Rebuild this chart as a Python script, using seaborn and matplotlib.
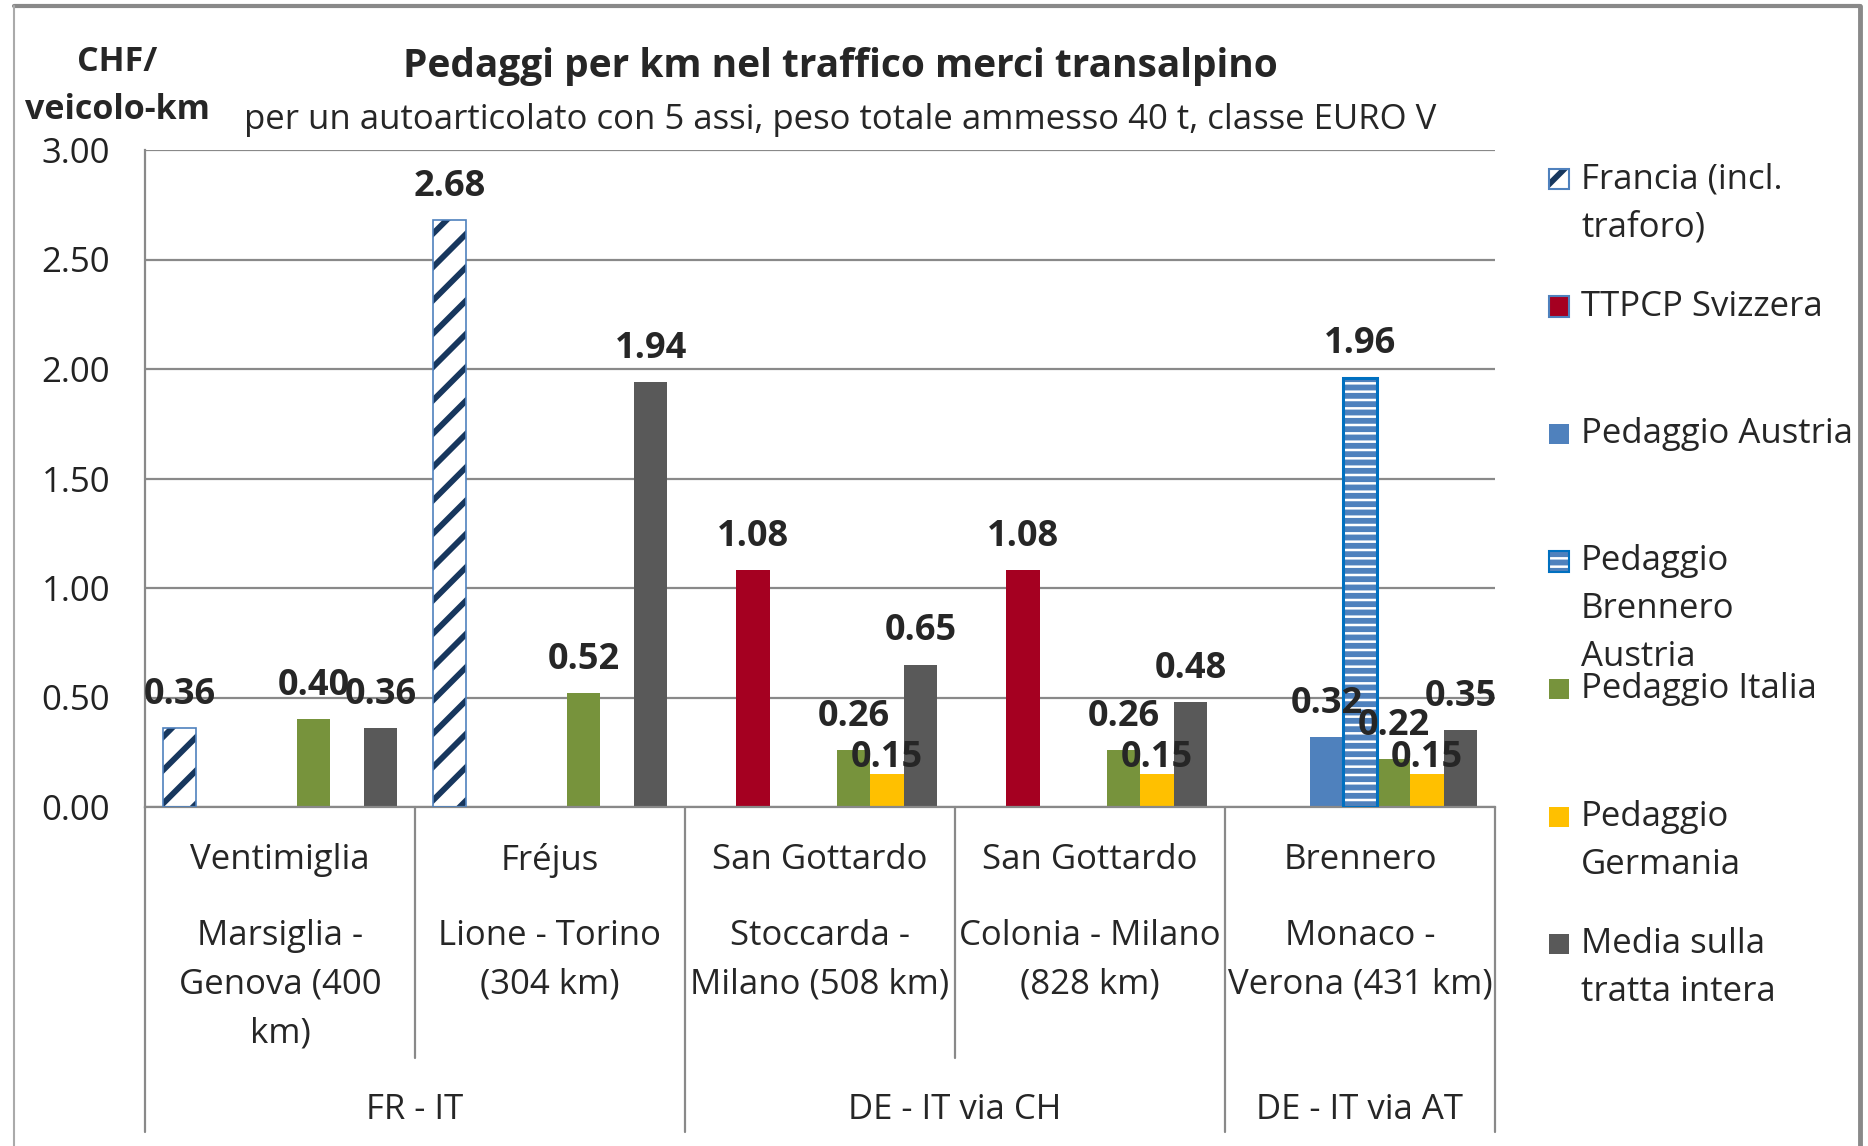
import numpy as np
import pandas as pd
import matplotlib.pyplot as plt
import matplotlib.transforms as mtransforms
from matplotlib.patches import Rectangle
from matplotlib.lines import Line2D
import seaborn as sns

# categorie (tratte) e gruppi
routes = ["Marsiglia - Genova (400 km)", "Lione - Torino (304 km)",
          "Stoccarda - Milano (508 km)", "Colonia - Milano (828 km)",
          "Monaco - Verona (431 km)"]
passes = ["Ventimiglia", "Fréjus", "San Gottardo", "San Gottardo", "Brennero"]
route_lines = [["Marsiglia -", "Genova (400", "km)"],
               ["Lione - Torino", "(304 km)"],
               ["Stoccarda -", "Milano (508 km)"],
               ["Colonia - Milano", "(828 km)"],
               ["Monaco -", "Verona (431 km)"]]
groups = ["FR - IT", "DE - IT via CH", "DE - IT via AT"]
group_sizes = [2, 2, 1]

# serie (CHF per veicolo-km)
series = ["Francia (incl. traforo)", "TTPCP Svizzera", "Pedaggio Austria",
          "Pedaggio Brennero Austria", "Pedaggio Italia", "Pedaggio Germania",
          "Media sulla tratta intera"]
legend_labels = ["Francia (incl.\ntraforo)", "TTPCP Svizzera", "Pedaggio Austria",
                 "Pedaggio\nBrennero\nAustria", "Pedaggio Italia", "Pedaggio\nGermania",
                 "Media sulla\ntratta intera"]
nan = np.nan
francia = [0.36, 2.68, nan, nan, nan]
ttpcp = [nan, nan, 1.08, 1.08, nan]
austria = [nan, nan, nan, nan, 0.32]
brennero = [nan, nan, nan, nan, 1.96]
italia = [0.40, 0.52, 0.26, 0.26, 0.22]
germania = [nan, nan, 0.15, 0.15, 0.15]
media = [0.36, 1.94, 0.65, 0.48, 0.35]
values = [francia, ttpcp, austria, brennero, italia, germania, media]

colors = ["#FFFFFF", "#A50021", "#4F81BD", "#FFFFFF", "#77933C", "#FFC000", "#595959"]
navy = "#17375E"
grey = "#898989"

rows = []
for s, vals in zip(series, values):
    for r, v in zip(routes, vals):
        if not np.isnan(v):
            rows.append({"tratta": r, "serie": s, "valore": v})
df = pd.DataFrame(rows)

sns.set_style("white")
plt.rcParams['font.family'] = ['Open Sans', 'DejaVu Sans']
plt.rcParams['hatch.linewidth'] = 4.2
FS = 25

W, H = 1868, 1146
fig = plt.figure(figsize=(W / 100, H / 100), dpi=100)
ax = fig.add_axes([145 / W, 1 - 807 / H, (1495 - 145) / W, (807 - 150) / H])

sns.barplot(data=df, x="tratta", y="valore", hue="serie", order=routes,
            hue_order=series, palette=colors, width=0.87, saturation=1,
            errorbar=None, legend=False, linewidth=0, ax=ax)

# tratteggi
for bar in ax.containers[0]:
    bar.set_facecolor("white")
    bar.set_edgecolor(navy)
    bar.set_hatch("/")
    bar.set_linewidth(0)
    ax.add_patch(Rectangle(bar.get_xy(), bar.get_width(), bar.get_height(),
                           fill=False, edgecolor="#4F81BD", lw=1.2, zorder=3))
for bar in ax.containers[3]:
    bar.set_facecolor("white")
    bar.set_edgecolor("#4F81BD")
    bar.set_hatch("--")
    bar.set_linewidth(0)
    ax.add_patch(Rectangle(bar.get_xy(), bar.get_width(), bar.get_height(),
                           fill=False, edgecolor="#0070C0", lw=2.2, zorder=3))

for i, c in enumerate(ax.containers):
    pad = -1 if i == 5 else 11
    ax.bar_label(c, fmt="%.2f", padding=pad, fontsize=26, fontweight="bold")

ax.set_xlim(-0.5, len(routes) - 0.5)
ax.set_ylim(0, 3)
ax.set_yticks(np.arange(0, 3.01, 0.5))
ax.yaxis.set_major_formatter(plt.FormatStrFormatter("%.2f"))
ax.set_xticks([])
ax.set_xlabel("")
ax.set_ylabel("")
ax.yaxis.grid(True, color=grey, lw=1.6)
ax.set_axisbelow(True)
for side in ["top", "right"]:
    ax.spines[side].set_visible(False)
for side in ["left", "bottom"]:
    ax.spines[side].set_color(grey)
    ax.spines[side].set_linewidth(1.6)
ax.tick_params(axis="y", length=7, width=1.6, color=grey, labelsize=FS,
               pad=18, labelcolor="#222222")

# etichette asse x a piu livelli
tr = mtransforms.blended_transform_factory(ax.transData, fig.transFigure)
for i, (p, lines) in enumerate(zip(passes, route_lines)):
    fig.text(i, 1 - 860 / H, p, transform=tr, ha="center", va="center", fontsize=FS)
    for k, ln in enumerate(lines):
        fig.text(i, 1 - (936 + 48.5 * k) / H, ln, transform=tr, ha="center",
                 va="center", fontsize=FS)

start = 0
bounds = [-0.5]
for g, n in zip(groups, group_sizes):
    fig.text(start + (n - 1) / 2, 1 - 1110 / H, g, transform=tr, ha="center",
             va="center", fontsize=FS)
    for j in range(1, n):
        x = start + j - 0.5
        fig.add_artist(Line2D([x, x], [1 - 807 / H, 1 - 1058 / H], transform=tr,
                              color=grey, lw=1.6))
    start += n
    bounds.append(start - 0.5)
for x in bounds:
    fig.add_artist(Line2D([x, x], [1 - 807 / H, 1 - 1132 / H], transform=tr,
                          color=grey, lw=1.6))

# titoli
fig.text(840 / W, 1 - 67 / H, "Pedaggi per km nel traffico merci transalpino",
         ha="center", va="center", fontsize=28, fontweight="bold")
fig.text(840 / W, 1 - 120 / H,
         "per un autoarticolato con 5 assi, peso totale ammesso 40 t, classe EURO V",
         ha="center", va="center", fontsize=FS)
fig.text(117 / W, 1 - 62 / H, "CHF/", ha="center", va="center", fontsize=24.5,
         fontweight="bold")
fig.text(117 / W, 1 - 110 / H, "veicolo-km", ha="center", va="center", fontsize=24.5,
         fontweight="bold")

# legenda
for i, (lab, col) in enumerate(zip(legend_labels, colors)):
    yc = 179 + 127.5 * i
    sq = Rectangle((1549 / W, 1 - (yc + 10) / H), 20 / W, 20 / H,
                   transform=fig.transFigure, facecolor=col, edgecolor="none")
    if i == 0:
        sq.set_edgecolor(navy)
        sq.set_hatch("/")
        sq.set_linewidth(0)
    if i == 3:
        sq.set_edgecolor("#4F81BD")
        sq.set_hatch("--")
        sq.set_linewidth(0)
    fig.add_artist(sq)
    if i in (0, 1, 3):
        fig.add_artist(Rectangle((1549 / W, 1 - (yc + 10) / H), 20 / W, 20 / H,
                                 transform=fig.transFigure, fill=False,
                                 edgecolor="#0070C0" if i == 3 else "#4F81BD", lw=1.5))
    for k, ln in enumerate(lab.split("\n")):
        fig.text(1581 / W, 1 - (yc + 48 * k) / H, ln, ha="left", va="center",
                 fontsize=FS)

# cornice
fig.add_artist(Line2D([14 / W, 1860 / W], [1 - 6 / H, 1 - 6 / H],
                      transform=fig.transFigure, color=grey, lw=3))
fig.add_artist(Line2D([1860 / W, 1860 / W], [1 - 6 / H, 0],
                      transform=fig.transFigure, color=grey, lw=3.5))
fig.add_artist(Line2D([14 / W, 14 / W], [1 - 6 / H, 0],
                      transform=fig.transFigure, color="#aaaaaa", lw=1.5))

fig.savefig("out.png", dpi=100)
